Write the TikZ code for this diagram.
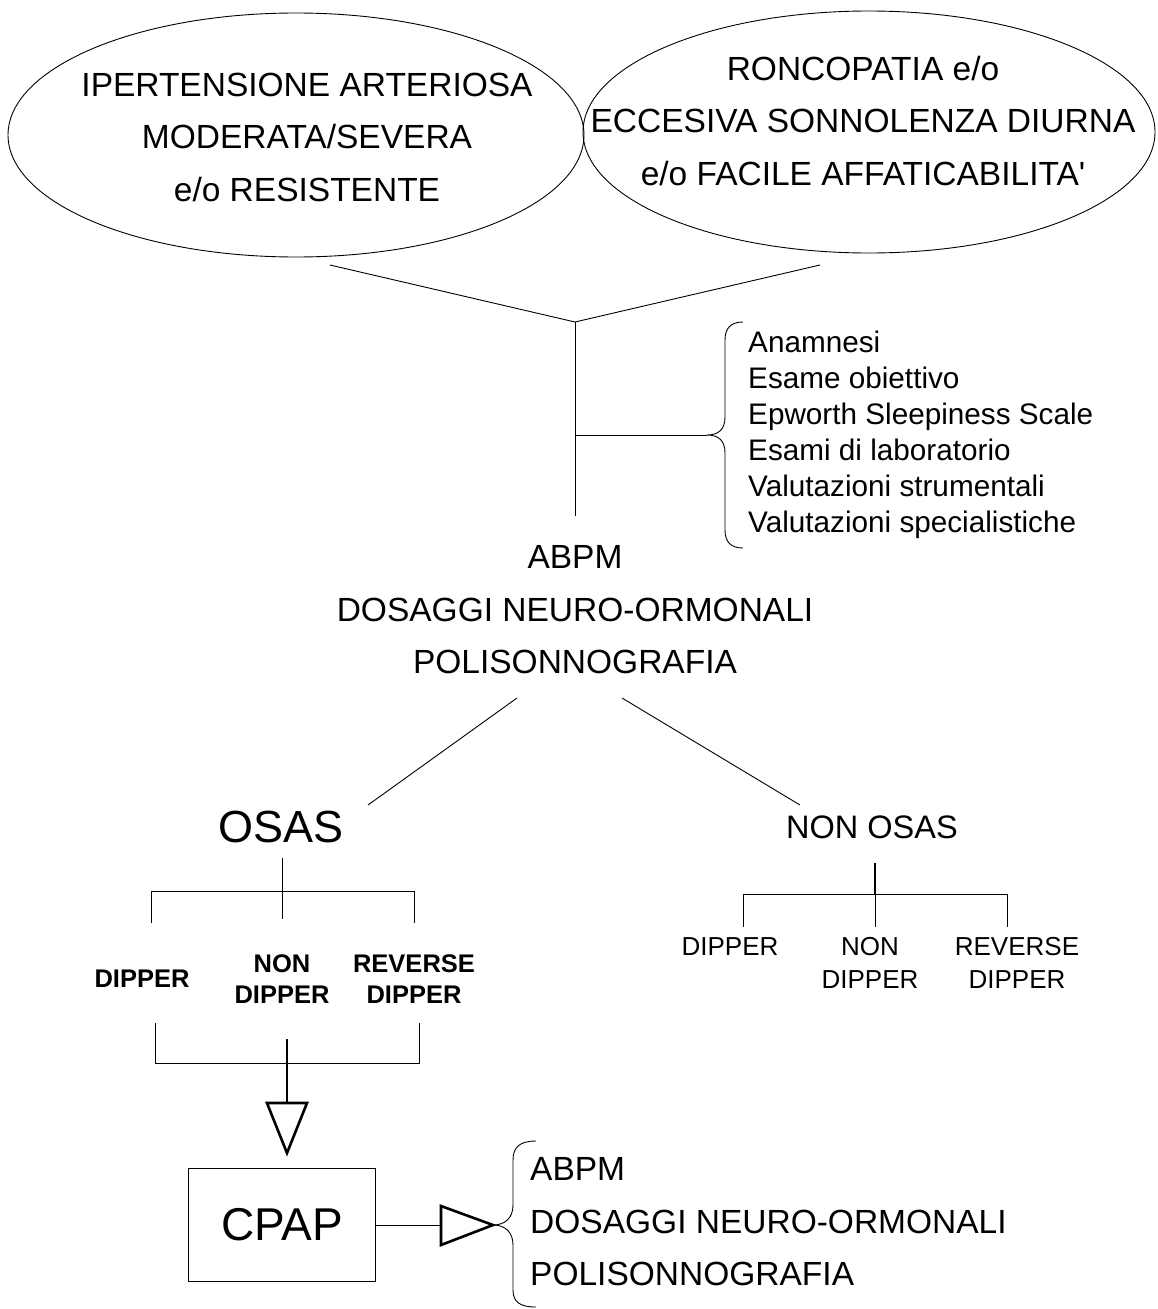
\documentclass[tikz,border=0pt]{standalone}
\usepackage{fontspec}
\setmainfont{Liberation Sans}
\usetikzlibrary{shapes.geometric}
\tikzset{
  ln/.style={line width=0.9pt},
  thk/.style={line width=2.6pt, line join=miter},
  big/.style={font=\fontsize{33.5}{52.5}\selectfont, align=center, inner sep=0pt},
  lst/.style={font=\fontsize{29.7}{36}\selectfont, align=left, inner sep=0pt},
  sub/.style={font=\fontsize{26}{33}\selectfont, align=center, inner sep=0pt},
  subb/.style={font=\bfseries\fontsize{25.5}{31}\selectfont, align=center, inner sep=0pt},
  ell/.style={draw, ellipse, line width=0.9pt, inner sep=0pt}
}
\begin{document}
\begin{tikzpicture}[x=1pt,y=-1pt]
\useasboundingbox (0,0) rectangle (1157,1309);
% ellipses
\node[ell, minimum width=576, minimum height=244] (e1) at (296,135) {};
\node[ell, minimum width=572, minimum height=242] (e2) at (869,132) {};
\node[big] (t1) at (307,137) {IPERTENSIONE ARTERIOSA\\MODERATA/SEVERA\\e/o RESISTENTE};
\node[big] (t2) at (863,121) {RONCOPATIA e/o\\ECCESIVA SONNOLENZA DIURNA\\e/o FACILE AFFATICABILITA\textquotesingle};
% V join
\coordinate (vl) at (330,265);
\coordinate (vr) at (820,265);
\coordinate (apex) at (575,322);
\coordinate (vend) at (575,516);
\coordinate (hj) at (575,435);
\coordinate (br1) at (707,435);
\draw[ln] (vl) -- (apex) -- (vr);
\draw[ln] (apex) -- (vend);
\draw[ln] (hj) -- (br1);
% brace 1
\draw[ln] (743,322) .. controls (731,322) and (725,328) .. (725,340) -- (725,417)
  .. controls (725,429) and (719,435) .. (br1)
  .. controls (719,435) and (725,441) .. (725,453) -- (725,530)
  .. controls (725,542) and (731,548) .. (743,548);
\node[lst, anchor=west] (list1) at (748,435) {Anamnesi\\Esame obiettivo\\Epworth Sleepiness Scale\\Esami di laboratorio\\Valutazioni strumentali\\Valutazioni specialistiche};
% middle block
\node[big] (mid) at (575,610) {ABPM\\DOSAGGI NEURO-ORMONALI\\POLISONNOGRAFIA};
\coordinate (m1) at (517,698);
\coordinate (m2) at (368,805);
\coordinate (m3) at (622,698);
\coordinate (m4) at (800,805);
\draw[ln] (m1) -- (m2);
\draw[ln] (m3) -- (m4);
\node[font=\fontsize{45}{54}\selectfont, inner sep=0pt] (osas) at (281,827) {OSAS};
\node[font=\fontsize{32.5}{40}\selectfont, inner sep=0pt] (nonosas) at (872,827) {NON OSAS};
% OSAS tree
\coordinate (o0) at (282,858);
\coordinate (o1) at (282,919);
\coordinate (oa) at (151,891);
\coordinate (ob) at (414,891);
\draw[ln] (o0) -- (o1);
\draw[ln] (151,923) -- (oa) -- (ob) -- (414,923);
\node[subb] (od1) at (142,979) {DIPPER};
\node[subb] (od2) at (282,979) {NON\\DIPPER};
\node[subb] (od3) at (414,979) {REVERSE\\DIPPER};
% lower bracket
\coordinate (la) at (155,1063);
\coordinate (lb) at (419,1063);
\draw[ln] (155,1023) -- (la) -- (lb) -- (419,1023);
\coordinate (lm) at (287,1039);
\coordinate (tri1) at (287,1103);
\draw[line width=1.8pt] (lm) -- (tri1);
\draw[thk, fill=white] (267,1103) -- (307,1103) -- (287,1153) -- cycle;
% CPAP
\node[draw, ln, minimum width=187, minimum height=113, inner sep=0pt, font=\fontsize{46}{54}\selectfont] (cpap) at (282,1225) {CPAP};
\coordinate (tri2) at (441,1225);
\draw[ln] (cpap.east) -- (tri2);
\draw[thk, fill=white] (441,1206) -- (493,1225) -- (441,1245) -- cycle;
\coordinate (br2) at (493,1225);
\draw[ln] (536,1141) .. controls (520,1141) and (513,1147) .. (513,1160) -- (513,1205)
  .. controls (513,1218) and (505,1225) .. (br2)
  .. controls (505,1225) and (513,1232) .. (513,1245) -- (513,1290)
  .. controls (513,1302) and (520,1307) .. (536,1307);
\node[big, align=left, anchor=west] (list2) at (530,1222) {ABPM\\DOSAGGI NEURO-ORMONALI\\POLISONNOGRAFIA};
% NON OSAS tree
\coordinate (n0) at (875,863);
\coordinate (n1) at (875,927);
\coordinate (na) at (743,894);
\coordinate (nb) at (1007,894);
\draw[line width=1.4pt] (n0) -- (875,894);
\draw[ln] (875,894) -- (n1);
\draw[ln] (743,927) -- (na) -- (nb) -- (1007,927);
\node[sub] (nd1) at (730,947) {DIPPER};
\node[sub] (nd2) at (870,963) {NON\\DIPPER};
\node[sub] (nd3) at (1017,963) {REVERSE\\DIPPER};
\end{tikzpicture}
\end{document}
